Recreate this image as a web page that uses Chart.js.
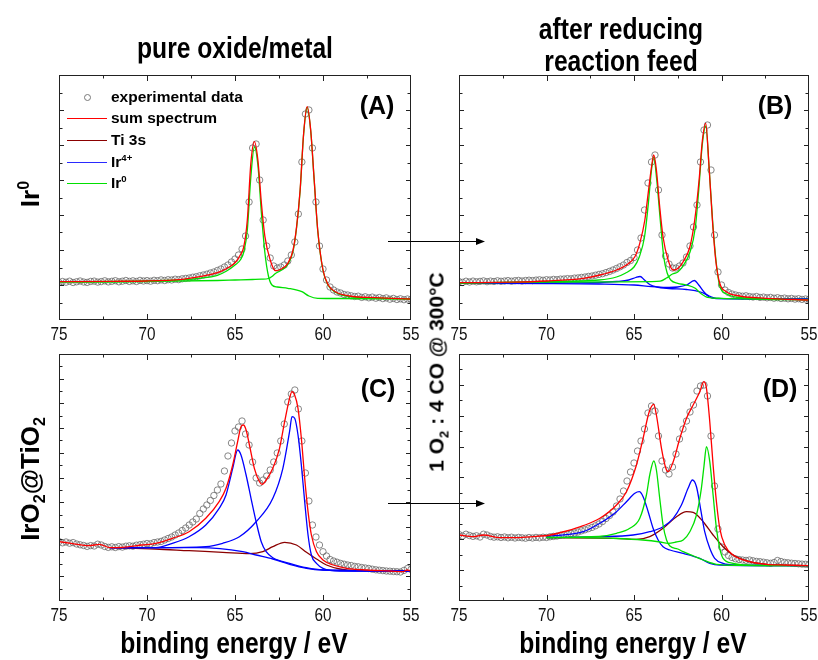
<!DOCTYPE html>
<html>
<head>
<meta charset="utf-8">
<title>Ir 4f XPS</title>
<script src="https://cdn.jsdelivr.net/npm/chart.js@4.4.1/dist/chart.umd.min.js"></script>
<style>
  html, body { margin: 0; padding: 0; background: #fff; }
  #page { position: relative; width: 818px; height: 660px; overflow: hidden; font-family: "Liberation Sans", Arial, sans-serif; color: #000; }
  #page canvas { position: absolute; left: 0; top: 0; }
  .lbl { position: absolute; white-space: nowrap; transform: translate(-50%, -50%); font-weight: bold; line-height: 1; }
  .narrow { font-size: 29px; transform: translate(-50%, -50%) scaleX(0.85); }
  .rot { transform: translate(-50%, -50%) rotate(-90deg); }
  .row-lbl { font-size: 26px; }
  .mid-lbl { font-size: 21px; }
  .letter { font-size: 25px; }
  sub, sup { font-size: 0.62em; line-height: 0; }
  .leg { position: absolute; left: 67px; height: 20px; display: flex; align-items: center; font-weight: bold; font-size: 15.5px; white-space: nowrap; }
  .leg .sw { width: 40px; margin-right: 4px; display: flex; align-items: center; justify-content: center; }
  .leg .ln { width: 40px; border-top: 1.5px solid; }
  .leg .dot { width: 5px; height: 5px; border: 1px solid #777; border-radius: 50%; }
</style>
</head>
<body>
<div id="page">
  <canvas id="cA" width="818" height="660"></canvas>
  <canvas id="cB" width="818" height="660"></canvas>
  <canvas id="cC" width="818" height="660"></canvas>
  <canvas id="cD" width="818" height="660"></canvas>

  <div class="lbl narrow" style="left:235px; top:48px;">pure oxide/metal</div>
  <div class="lbl narrow" style="left:621px; top:29px;">after reducing</div>
  <div class="lbl narrow" style="left:621px; top:61px;">reaction feed</div>
  <div class="lbl narrow" style="left:234px; top:643px;">binding energy / eV</div>
  <div class="lbl narrow" style="left:633px; top:643px;">binding energy / eV</div>

  <div class="lbl rot row-lbl" style="left:30px; top:194px;">Ir<sup>0</sup></div>
  <div class="lbl rot row-lbl" style="left:30px; top:479px;">IrO<sub>2</sub>@TiO<sub>2</sub></div>
  <div class="lbl rot mid-lbl" style="left:436px; top:372px;">1 O<sub>2</sub> : 4 CO @ 300°C</div>

  <div class="lbl letter" style="left:377px; top:105px;">(A)</div>
  <div class="lbl letter" style="left:775px; top:105px;">(B)</div>
  <div class="lbl letter" style="left:378px; top:388px;">(C)</div>
  <div class="lbl letter" style="left:780px; top:388px;">(D)</div>

  <div class="leg" style="top:87px;"><span class="sw"><span class="dot"></span></span><span>experimental data</span></div>
  <div class="leg" style="top:108px;"><span class="sw"><span class="ln" style="border-color:#ff0000"></span></span><span>sum spectrum</span></div>
  <div class="leg" style="top:130px;"><span class="sw"><span class="ln" style="border-color:#8b0000"></span></span><span>Ti 3s</span></div>
  <div class="leg" style="top:152px;"><span class="sw"><span class="ln" style="border-color:#2a2aff"></span></span><span>Ir<sup>4+</sup></span></div>
  <div class="leg" style="top:173px;"><span class="sw"><span class="ln" style="border-color:#00e000"></span></span><span>Ir<sup>0</sup></span></div>
</div>

<script>
// tick labels of the binding energy axis
const xTicks = [75, 70, 65, 60, 55];

// measured points, one every 0.2 eV from 75 down to 55 eV
const expE = [];
for (let i = 0; i <= 100; i++) expE.push(+(75 - i * 0.2).toFixed(1));

// ---- (A) Ir0, pure metal ----
const aExp = [
  37.5, 38.5, 37.8, 38.8, 37.5, 38.2, 39.0, 38.0, 37.6, 38.6,
  38.9, 37.9, 38.4, 39.2, 38.1, 38.7, 39.3, 38.2, 38.8, 39.5,
  38.6, 39.2, 38.5, 39.6, 39.0, 39.4, 38.8, 39.7, 39.3, 40.1,
  39.5, 40.3, 40.0, 40.8, 40.4, 41.2, 41.6, 42.0, 42.8, 43.3,
  44.2, 45.0, 45.8, 47.0, 48.0, 49.5, 51.0, 53.0, 55.0, 58.0,
  61.0, 65.0, 71.0, 84.0, 118, 172, 176, 140, 100, 74,
  62, 54, 52, 53, 55, 59, 65, 78, 106, 158,
  206, 210, 172, 118, 74, 51, 40, 33, 30, 28,
  27, 25.5, 25, 24.2, 23.5, 23.8, 22.6, 23.2, 22.2, 22.9,
  21.8, 22.5, 21.4, 22.1, 20.8, 21.6, 20.5, 21.2, 20.3, 21.0,
  20.4
];
const aSumE = [75, 72, 70, 68, 67, 66, 65.5, 65, 64.7, 64.5, 64.3, 64.1, 63.9, 63.7, 63.5, 63.3, 63, 62.7, 62.4, 62, 61.7, 61.5, 61.3, 61.1, 60.9, 60.7, 60.5, 60.3, 60, 59.7, 59.3, 58.5, 57, 55];
const aSumI = [38.3, 38.7, 39, 40.7, 43.3, 47.3, 51.3, 57.3, 65, 73.3, 100, 156.7, 178.3, 160, 116.7, 83.3, 60, 49.3, 50.7, 56.7, 70, 93.3, 130, 186.7, 213.3, 190, 140, 90, 50, 35, 28.3, 24, 22.3, 21];
const aIr0aE = [75, 70, 68, 67, 66, 65.5, 65, 64.7, 64.5, 64.3, 64.1, 63.9, 63.7, 63.5, 63.3, 63.1, 62.9, 62.6, 62, 61.2, 60.8, 60.3, 59, 55];
const aIr0aI = [38.3, 39, 40.3, 41.7, 44.7, 48.7, 55, 60, 68, 90, 143, 173, 155, 107, 67, 44, 35, 33, 31.7, 28.3, 24, 21.7, 21.5, 21];
const aIr0bE = [75, 70, 66, 65, 64, 63.5, 63.1, 62.9, 62.7, 62.4, 62, 61.7, 61.5, 61.3, 61.1, 60.9, 60.7, 60.5, 60.3, 60, 59.7, 59.3, 58.5, 57, 55];
const aIr0bI = [37.8, 38.5, 39.5, 40, 40.5, 40.8, 41.5, 43.5, 46.5, 49.5, 55.5, 69, 92.5, 129, 186, 212.5, 189.5, 139.5, 89.5, 49.5, 34.5, 27.8, 23.5, 22, 21];

// ---- (B) Ir0 after reaction feed ----
const bExp = [
  38.5, 37.6, 38.8, 38.0, 38.9, 38.2, 38.6, 39.1, 38.3, 38.9,
  38.5, 39.2, 38.7, 39.0, 39.4, 38.8, 39.3, 39.6, 39.0, 39.5,
  39.8, 39.4, 39.9, 40.2, 39.7, 40.3, 40.0, 40.6, 40.3, 40.9,
  41.0, 41.4, 41.2, 41.9, 42.1, 42.6, 43.0, 43.6, 44.0, 44.8,
  45.6, 46.3, 47.4, 48.6, 50.0, 51.5, 53.2, 55.0, 57.5, 59.5,
  62.5, 70, 82, 110, 137, 158, 165, 130, 85, 64,
  56, 52, 52, 54, 57, 63, 74, 93, 115, 158,
  190, 195, 150, 85, 48, 35, 30, 27.5, 26, 25,
  24.3, 23.8, 24.2, 23.4, 23.0, 23.5, 22.6, 22.9, 22.2, 22.6,
  21.8, 22.3, 21.5, 21.9, 21.2, 21.6, 20.9, 21.3, 20.6, 21.0,
  20.5
];
const bSumE = [75, 72, 70, 67.9, 66.95, 66, 65.43, 64.95, 64.67, 64.38, 64.19, 64, 63.87, 63.72, 63.53, 63.34, 63.05, 62.77, 62.48, 62.19, 61.81, 61.53, 61.28, 61.09, 60.9, 60.71, 60.52, 60.33, 60.1, 59.72, 58.96, 57.44, 55];
const bSumI = [37.3, 37.8, 39, 41.7, 45, 50, 55, 63.3, 76.7, 100, 126.7, 153, 165, 150, 113, 83, 60, 50, 51.7, 58.3, 73, 100, 140, 180, 196.7, 153, 100, 60, 36.7, 28.3, 24, 21.7, 20];
const bIr0aE = [75, 70, 67, 66, 65.5, 65, 64.7, 64.4, 64.2, 64, 63.87, 63.7, 63.5, 63.3, 63.1, 62.9, 62.5, 62, 61.5, 61.2, 60.8, 60, 55];
const bIr0aI = [37, 38.3, 40, 43, 46.7, 53, 63, 83, 113, 150, 163, 140, 100, 63, 46.7, 40, 36.7, 35, 31.7, 26.7, 22.7, 21.7, 20.7];
const bIr0bE = [75, 70, 66, 64, 63.5, 63.14, 62.8, 62.5, 62.2, 61.8, 61.5, 61.3, 61.1, 60.9, 60.7, 60.5, 60.3, 60.1, 59.7, 59, 55];
const bIr0bI = [37, 37.8, 38.2, 38.3, 38.8, 42, 46, 48, 54, 68, 92, 130, 175, 194, 150, 97, 57, 34, 26, 22.5, 20];
const bIr4aE = [75, 70, 67, 66, 65.3, 64.9, 64.65, 64.4, 64.1, 63.7, 63, 62, 61.2, 60.7, 60.3, 55];
const bIr4aI = [36.7, 37, 37.5, 38.5, 40, 42.5, 43.5, 40, 35.5, 33, 31.5, 30.5, 28, 24, 21.7, 21];
const bIr4bE = [75, 70, 67, 65, 64, 63, 62.5, 62, 61.55, 61.3, 61, 60.7, 60.3, 55];
const bIr4bI = [36.7, 36.5, 36, 35, 33.5, 32.5, 33, 35, 39.5, 35, 28, 23, 21.3, 21];

// ---- (C) IrO2@TiO2 ----
const cExp = [
  59.5, 58.2, 59.0, 57.8, 58.4, 57.0, 56.2, 55.5, 54.6, 55.4,
  55.0, 56.8, 56.0, 54.5, 53.6, 54.2, 53.5, 54.4, 53.9, 54.8,
  55.2, 54.8, 55.8, 56.3, 56.8, 57.5, 57.2, 58.4, 59.0, 59.6,
  61.0, 62.5, 64.0, 66.0, 68.0, 70.5, 73.0, 76.0, 79.0, 82.0,
  87.5, 92.0, 96.0, 100.5, 105.5, 111, 117, 130, 145, 158,
  170, 174, 180, 167, 156, 139, 123, 118, 121, 125,
  131, 139, 148, 160, 177, 199, 207, 211, 192, 160,
  128, 100, 76, 64, 56, 49.3, 45, 41.5, 40, 38.8,
  37.6, 36.8, 36.0, 35.5, 34.6, 34.2, 33.5, 33.0, 32.5, 31.8,
  31.2, 30.8, 30.4, 30.0, 29.8, 29.5, 29.3, 29.0, 30.6, 32.5,
  31.5
];
const cSumE = [75, 74.3, 73.3, 72.7, 72.1, 71.4, 70.3, 69.5, 68.56, 67.61, 66.66, 65.9, 65.51, 65.13, 64.85, 64.66, 64.52, 64.37, 64.18, 63.9, 63.61, 63.46, 63.23, 62.85, 62.47, 62.18, 61.9, 61.76, 61.61, 61.42, 61.23, 61.04, 60.85, 60.66, 60.37, 60, 59.42, 58.66, 57.51, 56.18, 55.42, 55.23, 55];
const cSumI = [59.3, 57.7, 55.3, 56.7, 53.3, 53.7, 56, 57.7, 62.7, 69.3, 82.7, 99.3, 112.7, 136, 159.3, 174.3, 176, 171, 156, 132.7, 119.3, 116.7, 121, 132.7, 152.7, 179.3, 202.7, 209.3, 206, 192.7, 162.7, 122.7, 89.3, 66, 49.3, 41, 36, 32.7, 31, 30, 29.3, 31, 30];
const cIr4aE = [72.1, 69.5, 68.56, 67.61, 66.66, 65.9, 65.51, 65.13, 64.85, 64.66, 64.37, 64.09, 63.8, 63.51, 63.23, 62.85, 61.9, 60.95, 60, 55];
const cIr4aI = [53.3, 53.3, 57.7, 64.3, 76, 92.7, 106, 132.7, 151, 146, 126, 102.7, 79.3, 59.3, 49.3, 43.3, 37.7, 33.3, 31, 30];
const cIr4bE = [72.1, 69.5, 66.66, 65.7, 64.75, 63.8, 62.85, 62.28, 61.9, 61.76, 61.61, 61.42, 61.23, 61.04, 60.85, 60.66, 60.37, 60, 59.04, 55];
const cIr4bI = [53.3, 53.3, 54.3, 57.7, 64.3, 79.3, 102.7, 132.7, 169.3, 184.3, 182.7, 166, 136, 99.3, 66, 46, 37.7, 32.7, 30, 30];
const cIr4cE = [72.1, 67.04, 64.56, 63.8, 62.85, 61.9, 60.94, 60, 55];
const cIr4cI = [53.3, 53.3, 49.3, 46, 42, 36.7, 32.7, 31, 30];
const cTiE = [72.1, 69.51, 67.61, 65.7, 64.18, 63.42, 62.85, 62.18, 61.51, 60.94, 60.37, 59.8, 59.04, 58.09, 55];
const cTiI = [53.3, 52, 50.3, 48.7, 47.3, 49.3, 54.3, 58.7, 56, 48.7, 42, 36, 32, 30.3, 30];

// ---- (D) IrO2@TiO2 after reaction feed ----
const dExp = [
  66.5, 65.0, 66.8, 65.5, 64.6, 65.2, 64.0, 66.8, 66.0, 64.5,
  63.8, 64.2, 63.5, 64.0, 63.2, 63.8, 63.0, 63.6, 63.2, 62.8,
  63.5, 63.0, 63.6, 63.2, 63.8, 63.5, 64.2, 64.6, 65.0, 65.8,
  66.2, 66.8, 67.4, 68.0, 69.0, 70.2, 71.2, 72.4, 73.6, 75.2,
  77, 79.5, 82.5, 85.5, 89, 95, 102, 110, 120, 129,
  138, 150, 160, 172, 188, 195, 190, 165, 140, 131,
  127, 134, 147, 162, 172, 180, 189, 196, 210, 215,
  216, 205, 165, 115, 72, 54, 49, 45.5, 43.5, 42.2,
  41.5, 41, 40.6, 41, 40.2, 39.6, 39.3, 38.8, 38.2, 37.7,
  38.5, 40.5, 39.5, 38.6, 38.2, 37.8, 37.5, 37.2, 36.9, 36.7,
  36.4
];
const dSumE = [75, 74.2, 73.6, 72.66, 71.71, 70.76, 69.8, 68.85, 67.9, 66.95, 66, 65.43, 64.86, 64.48, 64.13, 63.87, 63.72, 63.43, 63.18, 63.05, 62.76, 62.38, 62, 61.62, 61.24, 61.01, 60.86, 60.67, 60.48, 60.29, 60.1, 59.81, 59.34, 58.39, 57.44, 56.48, 55];
const dSumI = [66, 64.3, 66, 63.3, 63.3, 64.3, 66, 70, 75.3, 82.7, 96, 109.3, 136, 162.7, 189.3, 196.7, 186, 152.7, 132.7, 129.3, 139.3, 162.7, 182.7, 196, 209.3, 219.3, 212.7, 179.3, 136, 99.3, 72.7, 56, 46, 39.3, 36.7, 36, 35.3];
const dIr0aE = [70, 67, 66, 65.24, 64.67, 64.29, 64.1, 63.87, 63.72, 63.53, 63.34, 63.14, 62.95, 62.5, 62.19, 61.6, 61.05, 60.29, 59, 55];
const dIr0aI = [63.5, 64.5, 67.7, 72.7, 82.7, 106, 126, 140, 131, 102.7, 76, 61, 55, 52, 49.3, 45, 41, 36.7, 35.7, 35.3];
const dIr0bE = [70, 68, 66, 64.5, 63.5, 63.05, 62.6, 62.19, 61.81, 61.43, 61.15, 61, 60.86, 60.67, 60.48, 60.29, 60.1, 59.91, 59.34, 58.5, 55];
const dIr0bI = [63.5, 63.3, 62.5, 61, 59, 57.7, 59, 61, 69.3, 86, 112.7, 135, 154.3, 139.3, 106, 72.7, 52.7, 42.7, 37.7, 36, 35.3];
const dIr4aE = [70, 67.9, 66.95, 66, 65.43, 64.95, 64.7, 64.48, 64.19, 63.91, 63.62, 63.34, 62.95, 62.19, 61.24, 60.67, 60.1, 55];
const dIr4aI = [64.5, 69.3, 77.7, 89.3, 99.3, 107.7, 109.3, 104.3, 89.3, 72.7, 61, 54.3, 51, 47.7, 42.7, 37.7, 36, 35.3];
const dIr4bE = [70, 66.95, 65.05, 64.1, 63.34, 62.76, 62.29, 61.91, 61.66, 61.43, 61.2, 60.96, 60.67, 60.39, 59.91, 59.15, 55];
const dIr4bI = [63.5, 64.3, 66, 69.3, 74.3, 82.7, 96, 112.7, 121, 114.3, 92.7, 69.3, 52.7, 42.7, 37.7, 36, 35.3];
const dTiE = [70, 66, 64.86, 64.1, 63.34, 62.57, 62, 61.62, 61.05, 60.48, 59.91, 59.34, 58.39, 57.44, 55];
const dTiI = [63.3, 62.7, 61.7, 64.3, 72.7, 84.3, 89.3, 88.7, 79.3, 66, 54.3, 46, 39.3, 36.7, 35.3];

const RED = '#ff0000', DARKRED = '#8b0000', BLUE = '#0000ff', GREEN = '#00e000';

const pts = (es, is) => es.map((e, i) => ({ x: e, y: is[i] }));

const line = (es, is, color, order) => ({
  data: pts(es, is),
  borderColor: color,
  borderWidth: 1.3,
  pointRadius: 0,
  cubicInterpolationMode: 'monotone',
  fill: false,
  order: order
});

const points = (is) => ({
  data: pts(expE, is),
  showLine: false,
  pointRadius: 3.2,
  pointBorderWidth: 0.8,
  pointBorderColor: '#6a6a6a',
  pointBackgroundColor: 'rgba(0,0,0,0)',
  order: 9
});

// frame, inward ticks and x tick labels
const framePlugin = {
  id: 'frame',
  afterDraw(chart, args, opts) {
    const { ctx, chartArea: a, scales: { x, y } } = chart;
    ctx.save();
    ctx.strokeStyle = '#222';
    ctx.lineWidth = 1;
    ctx.beginPath();
    for (let e = 57.5; e < 75; e += 2.5) {
      const px = Math.round(x.getPixelForValue(e)) + 0.5;
      const len = e % 5 === 0 ? 6 : 3.5;
      ctx.moveTo(px, a.bottom); ctx.lineTo(px, a.bottom - len);
      ctx.moveTo(px, a.top); ctx.lineTo(px, a.top + len);
    }
    for (let k = 1; k * opts.yStep < opts.yMax - 2; k++) {
      const py = Math.round(y.getPixelForValue(k * opts.yStep)) + 0.5;
      const len = k % 2 === 0 ? 5 : 3.5;
      ctx.moveTo(a.left, py); ctx.lineTo(a.left + len, py);
      ctx.moveTo(a.right, py); ctx.lineTo(a.right - len, py);
    }
    ctx.stroke();
    ctx.strokeRect(a.left + 0.5, a.top + 0.5, a.right - a.left - 1, a.bottom - a.top - 1);

    // condensed tick numbers like the original figure
    ctx.fillStyle = '#111';
    ctx.font = '18px "Liberation Sans", sans-serif';
    ctx.textAlign = 'center';
    ctx.textBaseline = 'middle';
    xTicks.forEach(v => {
      ctx.save();
      ctx.translate(x.getPixelForValue(v), a.bottom + 15);
      ctx.scale(0.85, 1);
      ctx.fillText(String(v), 0, 0);
      ctx.restore();
    });

    // arrow towards the panel on the right
    if (opts.arrowY) {
      const ay = opts.arrowY;
      ctx.fillStyle = '#000';
      ctx.strokeStyle = '#000';
      ctx.beginPath();
      ctx.moveTo(388, ay); ctx.lineTo(478, ay);
      ctx.stroke();
      ctx.beginPath();
      ctx.moveTo(485, ay); ctx.lineTo(476, ay - 3.5); ctx.lineTo(476, ay + 3.5);
      ctx.closePath();
      ctx.fill();
    }
    ctx.restore();
  }
};

function panel(id, area, yMax, yStep, datasets, arrowY) {
  new Chart(document.getElementById(id), {
    type: 'line',
    data: { datasets: datasets },
    options: {
      responsive: false,
      animation: false,
      layout: { padding: { left: area[0], top: area[1], right: 818 - area[2], bottom: 660 - area[3] } },
      scales: {
        x: { type: 'linear', reverse: true, min: 55, max: 75, display: false },
        y: { type: 'linear', min: 0, max: yMax, display: false }
      },
      plugins: {
        legend: { display: false },
        tooltip: { enabled: false },
        frame: { yMax: yMax, yStep: yStep, arrowY: arrowY }
      }
    },
    plugins: [framePlugin]
  });
}

panel('cA', [59, 75, 411, 320], 245, 17.5, [
  points(aExp),
  line(aIr0aE, aIr0aI, GREEN, 2),
  line(aIr0bE, aIr0bI, GREEN, 2),
  line(aSumE, aSumI, RED, 0)
], 241.5);

panel('cB', [459, 75, 809, 320], 245, 17.5, [
  points(bExp),
  line(bIr4aE, bIr4aI, BLUE, 3),
  line(bIr4bE, bIr4bI, BLUE, 3),
  line(bIr0aE, bIr0aI, GREEN, 2),
  line(bIr0bE, bIr0bI, GREEN, 2),
  line(bSumE, bSumI, RED, 0)
]);

panel('cC', [59, 354, 411, 601], 247, 12.35, [
  points(cExp),
  line(cTiE, cTiI, DARKRED, 4),
  line(cIr4cE, cIr4cI, BLUE, 3),
  line(cIr4aE, cIr4aI, BLUE, 3),
  line(cIr4bE, cIr4bI, BLUE, 3),
  line(cSumE, cSumI, RED, 0)
], 503.5);

panel('cD', [459, 354, 809, 601], 247, 15.44, [
  points(dExp),
  line(dTiE, dTiI, DARKRED, 4),
  line(dIr4aE, dIr4aI, BLUE, 3),
  line(dIr4bE, dIr4bI, BLUE, 3),
  line(dIr0aE, dIr0aI, GREEN, 2),
  line(dIr0bE, dIr0bI, GREEN, 2),
  line(dSumE, dSumI, RED, 0)
]);
</script>
</body>
</html>
